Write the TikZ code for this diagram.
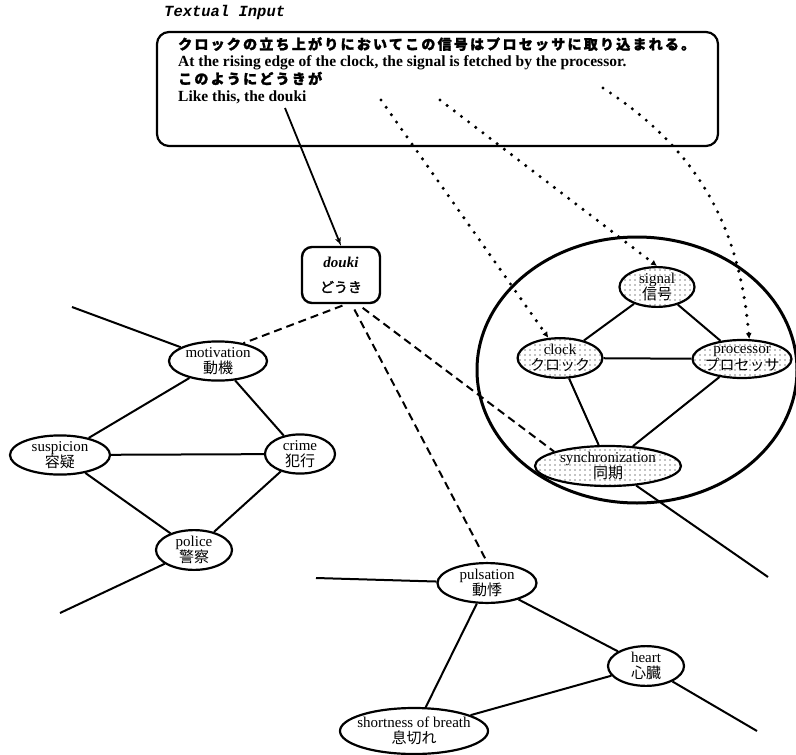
\documentclass[tikz,border=0pt]{standalone}
\usepackage{fontspec}
\setmainfont{Liberation Serif}
\setmonofont{Liberation Mono}
\newfontfamily\jfont{Noto Sans CJK JP}
\newfontfamily\jboldfont[FakeBold=1.6]{Noto Sans CJK JP}
\usetikzlibrary{arrows,arrows.meta,positioning,calc,shapes.geometric,patterns.meta}

\begin{document}
\begin{tikzpicture}[x=1pt, y=-1pt,
            every node/.style={inner sep=0pt},
            concept/.style={draw, ellipse, line width=2.2pt, fill=white, align=center,
                            font=\fontsize{15}{16.5}\selectfont},
            synced/.style={concept, fill=none,
                           pattern={Dots[distance=5pt, radius=0.6pt]}},
            link/.style={line width=2pt},
            guess/.style={line width=2pt, dash pattern=on 8pt off 5pt},
            pointer/.style={line width=3.4pt, line cap=round, dash pattern=on 0pt off 9pt,
                            -{Latex[length=6pt, width=6pt]}}]
        \useasboundingbox (0,0) rectangle (796,755);

        % textual input
        \node[anchor=west, font=\fontsize{15.5}{15}\ttfamily\bfseries\itshape] (inputTitle) at (164,12) {Textual Input};
        \node[draw, line width=2.2pt, rounded corners=12pt, minimum width=561pt, minimum height=114pt] (inputBox) at (437.5,89) {};
        \node[anchor=north west, align=left, font=\fontsize{15.5}{17.3}\selectfont\bfseries] (inputText) at (178,37)
            {{\jboldfont\fontsize{14}{17.3}\selectfont\addfontfeature{LetterSpace=16}クロックの立ち上がりにおいてこの信号はプロセッサに取り込まれる。}\\
             At the rising edge of the clock, the signal is fetched by the processor.\\
             {\jboldfont\fontsize{14}{17.3}\selectfont\addfontfeature{LetterSpace=16}このようにどうきが}\\
             Like this, the douki};
        \coordinate (wordDouki) at (285,108);
        \coordinate (wordClock) at (381,100);
        \coordinate (wordSignal) at (440,100);
        \coordinate (wordProc) at (603,88);

        % douki
        \node[draw, line width=2.4pt, rounded corners=10pt, minimum width=78pt, minimum height=56pt,
              align=center, font=\fontsize{15}{25}\selectfont] (nodeDouki) at (341,275)
            {\textbf{\textit{douki}}\\{\jboldfont\fontsize{14}{25}\selectfont どうき}};
        \draw[line width=1.8pt, -latex'] (wordDouki) -- (nodeDouki.north);

        % synchronization cluster
        \draw[line width=3pt] (637,370) ellipse [x radius=160pt, y radius=133pt];
        \node[synced, minimum width=75pt, minimum height=39pt] (nodeSignal) at (657,287) {signal\\{\jfont 信号}};
        \node[synced, minimum width=76pt, minimum height=38pt] (nodeClock) at (560,358) {clock\\{\jfont クロック}};
        \node[synced, minimum width=99pt, minimum height=38pt, inner xsep=-3pt] (nodeProc) at (742,359) {processor\\{\jfont プロセッサ}};
        \node[synced, minimum width=146pt, minimum height=40pt, inner xsep=-10pt, inner ysep=-1pt] (nodeSync) at (608,466) {synchronization\\{\jfont 同期}};
        \draw[link] (nodeSignal) -- (nodeClock);
        \draw[link] (nodeSignal) -- (nodeProc);
        \draw[link] (nodeClock) -- (nodeProc);
        \draw[link] (nodeClock) -- (nodeSync);
        \draw[link] (nodeProc) -- (nodeSync);
        \coordinate (endSync) at (768,577);
        \draw[link] (nodeSync) -- (endSync);

        % crime cluster
        \node[concept, minimum width=98pt, minimum height=38pt, inner xsep=-3pt] (nodeMot) at (218,361) {motivation\\{\jfont 動機}};
        \node[concept, minimum width=100pt, minimum height=36pt, inner xsep=-3pt] (nodeSusp) at (60,455) {suspicion\\{\jfont 容疑}};
        \node[concept, minimum width=70pt, minimum height=36pt] (nodeCrime) at (300,454) {crime\\{\jfont 犯行}};
        \node[concept, minimum width=76pt, minimum height=37pt] (nodePolice) at (194,550) {police\\{\jfont 警察}};
        \draw[link] (nodeMot) -- (nodeSusp);
        \draw[link] (nodeMot) -- (nodeCrime);
        \draw[link] (nodeSusp) -- (nodeCrime);
        \draw[link] (nodeSusp) -- (nodePolice);
        \draw[link] (nodeCrime) -- (nodePolice);
        \coordinate (endMot) at (72,307);
        \coordinate (endPolice) at (60,613);
        \draw[link] (nodeMot) -- (endMot);
        \draw[link] (nodePolice) -- (endPolice);

        % pulsation cluster
        \node[concept, minimum width=99pt, minimum height=38pt, inner xsep=-3pt] (nodePulse) at (487,583) {pulsation\\{\jfont 動悸}};
        \node[concept, minimum width=76pt, minimum height=38pt] (nodeHeart) at (646,666) {heart\\{\jfont 心臓}};
        \node[concept, minimum width=148pt, minimum height=46pt, inner xsep=-20pt] (nodeBreath) at (414,731) {shortness of breath\\{\jfont 息切れ}};
        \draw[link] (nodePulse) -- (nodeHeart);
        \draw[link] (nodePulse) -- (nodeBreath);
        \draw[link] (nodeHeart) -- (nodeBreath);
        \coordinate (endPulse) at (316,578);
        \coordinate (endHeart) at (757,731);
        \draw[link] (nodePulse) -- (endPulse);
        \draw[link] (nodeHeart) -- (endHeart);

        % associations from douki
        \draw[guess, shorten <=4pt] (nodeDouki.-80) -- (nodeMot.35);
        \draw[guess, shorten <=6pt] (nodeDouki.-60) -- (nodeSync.165);
        \draw[guess, shorten <=6pt] (nodeDouki.-70) -- (nodePulse.north);

        % words to concepts
        \draw[pointer] (wordClock) -- (nodeClock.120);
        \draw[pointer] (wordSignal) -- (nodeSignal.north);
        \draw[pointer] (wordProc) to[out=-33, in=95] (nodeProc.70);
\end{tikzpicture}
\end{document}
